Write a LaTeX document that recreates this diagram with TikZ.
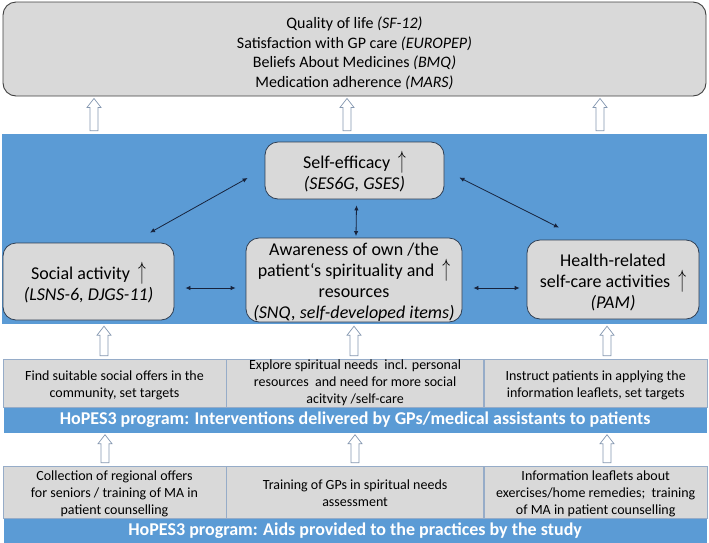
\documentclass[tikz,border=0pt]{standalone}
\usepackage{fontspec}
\setmainfont{Carlito}
\usepackage{xcolor}
\usepackage{graphicx}
\usepackage{tikz}
\usetikzlibrary{positioning}
\usetikzlibrary{calc,arrows.meta}

\definecolor{panelblue}{RGB}{91,155,213}
\definecolor{boxgray}{RGB}{217,217,217}
\definecolor{boxline}{RGB}{47,62,82}
\definecolor{linknavy}{RGB}{23,35,60}
\definecolor{cellline}{RGB}{150,172,200}
\definecolor{hollowline}{RGB}{132,151,176}

% rising trend mark and first-line strut
\newcommand{\uparr}{\hspace{8pt}\scalebox{0.9}[1.45]{$\uparrow$}}
\newcommand{\lift}[1]{\rule{0pt}{#1}}

\tikzset{
  outcome/.style={draw=black!75, fill=boxgray, rounded corners=13pt, line width=0.9pt,
    align=center, font=\fontsize{16}{19.5}\selectfont},
  factor/.style={draw=boxline, fill=boxgray, rounded corners=13pt, line width=0.8pt,
    align=center, inner sep=0pt, font=\fontsize{18}{21}\selectfont},
  cell/.style={draw=cellline, fill=boxgray, line width=0.6pt, align=center, inner sep=0pt,
    minimum height=48pt, font=\fontsize{14}{17}\selectfont},
  bar/.style={fill=panelblue, text=white, inner sep=0pt, minimum width=703pt,
    font=\fontsize{18}{20}\selectfont\bfseries},
  link/.style={draw=linknavy, line width=0.8pt,
    {Latex[length=5pt,width=4.5pt]}-{Latex[length=5pt,width=4.5pt]}},
  hollow/.style={draw=hollowline, fill=white, line width=0.7pt,
    to path={let \p1=(\tikztostart), \p2=(\tikztotarget) in
      (\x1-4pt,\y1+3pt) -- (\x1-4pt,\y2-11pt) -- (\x1-7pt,\y2-11pt) -- (\x1,\y2-2pt)
      -- (\x1+7pt,\y2-11pt) -- (\x1+4pt,\y2-11pt) -- (\x1+4pt,\y1+3pt) -- cycle}}
}

\begin{document}
\begin{tikzpicture}[x=1pt,y=-1pt]

% Fix the page
\useasboundingbox (0,0) rectangle (709,542);

% Draw outcome box
\node[outcome, minimum width=703pt, minimum height=94pt] (outcome) at (354.5,49)
  {\lift{20pt}Quality of life \textit{(SF-12)}\\
   Satisfaction with GP care \textit{(EUROPEP)}\\
   Beliefs About Medicines \textit{(BMQ)}\\
   Medication adherence \textit{(MARS)}};

% Draw blue panel
\node[fill=panelblue, minimum width=705pt, minimum height=190pt, inner sep=0pt] (panel) at (354.5,229) {};

% Draw factors
\node[factor, minimum width=179pt, minimum height=57pt] (selfeff) at (354.5,170.5)
  {\lift{19pt}Self-efficacy\uparr\\ \textit{(SES6G, GSES)}};
\node[factor, minimum width=171pt, minimum height=77pt] (social) at (88.5,281.5)
  {\lift{19pt}Social activity\uparr\\ \textit{(LSNS-6, DJGS-11)}};
\node[factor, minimum width=216pt, minimum height=84pt] (aware) at (354,280)
  {\lift{16.5pt}Awareness of own /the\\ patient‘s spirituality and\uparr\\ resources\\ \textit{(SNQ, self-developed items)}};
\node[factor, minimum width=172pt, minimum height=79pt] (health) at (613,279.5)
  {\lift{19pt}Health-related\\ self-care activities\uparr\\ \textit{(PAM)}};

% Draw links between factors
\draw[link] ([xshift=-17pt,yshift=-7.5pt]selfeff.west) -- ([xshift=61.5pt,yshift=10pt]social.north);
\draw[link] ([xshift=15pt,yshift=-7pt]selfeff.east) -- ([xshift=-54pt,yshift=12pt]health.north);
\draw[link] ([xshift=2pt,yshift=-6pt]selfeff.south) -- ([xshift=2pt,yshift=1.5pt]aware.north);
\draw[link] ([xshift=11pt,yshift=-6.5pt]social.east) -- ([xshift=-10pt,yshift=-8pt]aware.west);
\draw[link] ([xshift=11pt,yshift=-8pt]aware.east) -- ([xshift=-7pt,yshift=-8.5pt]health.west);

% Draw interventions
\node[cell, minimum width=223pt] (find) at (114.5,383)
  {\lift{14.5pt}Find suitable social offers in the\\ community, set targets};
\node[cell, minimum width=257pt, right=0pt of find] (explore)
  {Explore spiritual needs\ \ incl. personal\\ resources\ \ and need for more social\\ acitvity /self-care};
\node[cell, minimum width=223pt, right=0pt of explore] (instruct)
  {\lift{14.5pt}Instruct patients in applying the\\ information leaflets, set targets};
\node[bar, minimum height=25pt, below=0pt of explore] (interv)
  {HoPES3 program: Interventions delivered by GPs/medical assistants to patients};

% Draw aids
\node[cell, minimum width=223pt, minimum height=52pt] (collect) at (114.5,492)
  {\lift{13pt}Collection of regional offers\\ for seniors / training of MA in\\ patient counselling};
\node[cell, minimum width=257pt, minimum height=52pt, right=0pt of collect] (training)
  {\lift{13pt}Training of GPs in spiritual needs\\ assessment};
\node[cell, minimum width=223pt, minimum height=52pt, right=0pt of training] (leaflet)
  {\lift{13pt}Information leaflets about\\ exercises/home remedies;\ \ training\\ of MA in patient counselling};
\node[bar, minimum height=24pt, below=0pt of training] (aids)
  {HoPES3 program: Aids provided to the practices by the study};

% Draw hollow arrows
\foreach \x in {94,347,600} {
  \coordinate (col) at (\x,0);
  \draw[hollow] (panel.north -| col) to (outcome.south -| col);
}
\foreach \x in {104,354,607} {
  \coordinate (col) at (\x,0);
  \draw[hollow] (find.north -| col) to (panel.south -| col);
}
\foreach \x in {105,355,607} {
  \coordinate (col) at (\x,0);
  \draw[hollow] (collect.north -| col) to (interv.south -| col);
}

\end{tikzpicture}
\end{document}
